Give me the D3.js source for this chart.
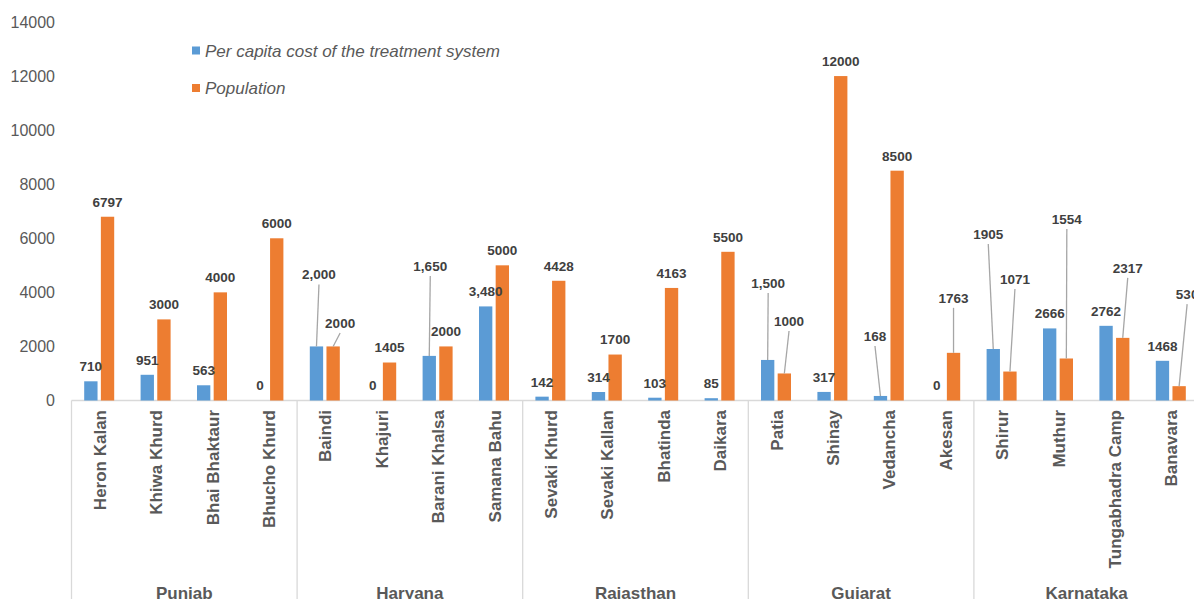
<!DOCTYPE html>
<html>
<head>
<meta charset="utf-8">
<script src="https://cdn.jsdelivr.net/npm/d3@7"></script>
<style>
  html, body { margin: 0; padding: 0; background: #ffffff; }
  svg { display: block; font-family: "Liberation Sans", Arial, sans-serif; }
</style>
</head>
<body>
<svg id="chart" width="1194" height="599"></svg>
<script>
// ---------- DATA ----------
const states = ["Punjab", "Haryana", "Rajasthan", "Gujarat", "Karnataka"];
const villages = [
  "Heron Kalan", "Khiwa Khurd", "Bhai Bhaktaur", "Bhucho Khurd",
  "Baindi", "Khajuri", "Barani Khalsa", "Samana Bahu",
  "Sevaki Khurd", "Sevaki Kallan", "Bhatinda", "Daikara",
  "Patia", "Shinay", "Vedancha", "Akesan",
  "Shirur", "Muthur", "Tungabhadra Camp", "Banavara"
];
const villageState = [
  "Punjab", "Punjab", "Punjab", "Punjab",
  "Haryana", "Haryana", "Haryana", "Haryana",
  "Rajasthan", "Rajasthan", "Rajasthan", "Rajasthan",
  "Gujarat", "Gujarat", "Gujarat", "Gujarat",
  "Karnataka", "Karnataka", "Karnataka", "Karnataka"
];
const perCapitaCost = [710, 951, 563, 0, 2000, 0, 1650, 3480, 142, 314, 103, 85, 1500, 317, 168, 0, 1905, 2666, 2762, 1468];
const population = [6797, 3000, 4000, 6000, 2000, 1405, 2000, 5000, 4428, 1700, 4163, 5500, 1000, 12000, 8500, 1763, 1071, 1554, 2317, 530];
const seriesNames = ["Per capita cost of the treatment system", "Population"];
const yTicks = [0, 2000, 4000, 6000, 8000, 10000, 12000, 14000];
// cost labels shown with thousands separators in the original
const commaFormatted = ["Baindi", "Khajuri", "Barani Khalsa", "Samana Bahu", "Patia"];

// ---------- LAYOUT (not data) ----------
const colors = ["#5B9BD5", "#ED7D31"];
// labels that were dragged away from their bars (pixel offsets from default spot)
const movedLabels = [
  { s: 0, i: 4, dx: 2.5, dy: -57 },
  { s: 0, i: 6, dx: 1, dy: -75 },
  { s: 0, i: 12, dx: 0.5, dy: -62 },
  { s: 0, i: 14, dx: -5.5, dy: -45 },
  { s: 0, i: 16, dx: -5, dy: -100 },
  { s: 1, i: 4, dx: 7, dy: -8.5 },
  { s: 1, i: 12, dx: 4.7, dy: -37.5 },
  { s: 1, i: 15, dx: 0, dy: -40 },
  { s: 1, i: 16, dx: 5, dy: -77.5 },
  { s: 1, i: 17, dx: 0.5, dy: -124.5 },
  { s: 1, i: 18, dx: 5, dy: -55 },
  { s: 1, i: 19, dx: 8, dy: -77 }
];

const svg = d3.select("#chart");
const plotLeft = 71.5, plotRight = 1199.5, yZero = 400.5, yTop = 22;

const x0 = d3.scaleBand().domain(villages).range([plotLeft, plotRight]).paddingInner(0).paddingOuter(0);
const x1 = d3.scaleBand().domain([0, 1]).range([-15.5, 14.5]).paddingInner(0.2);
const y = d3.scaleLinear().domain([0, 14000]).range([yZero, yTop]);

const center = v => x0(v) + x0.bandwidth() / 2;
const seriesValues = [perCapitaCost, population];

// Y axis tick labels
const yAxis = d3.axisLeft(y).tickValues(yTicks).tickSize(0).tickPadding(0).tickFormat(d3.format("d"));
const yG = svg.append("g").attr("transform", "translate(55,0)").call(yAxis);
yG.select(".domain").remove();
yG.selectAll("text")
  .attr("fill", "#595959")
  .style("font-size", "16px")
  .style("font-family", "'Liberation Sans', Arial, sans-serif");

// X axis line
svg.append("line")
  .attr("x1", plotLeft).attr("x2", plotRight)
  .attr("y1", yZero).attr("y2", yZero)
  .attr("stroke", "#d9d9d9").attr("stroke-width", 1.3);

// Group separators
const groupBounds = [];
states.forEach(st => {
  const idx = villageState.indexOf(st);
  groupBounds.push(x0(villages[idx]));
});
groupBounds.push(plotRight);
svg.selectAll("line.sep").data(groupBounds).enter().append("line")
  .attr("class", "sep")
  .attr("x1", d => d).attr("x2", d => d)
  .attr("y1", yZero).attr("y2", 599)
  .attr("stroke", "#d9d9d9").attr("stroke-width", 1.3);

// Bars
[0, 1].forEach(s => {
  svg.append("g").selectAll("rect").data(villages).enter().append("rect")
    .attr("x", (v) => center(v) + x1(s))
    .attr("width", x1.bandwidth())
    .attr("y", (v, i) => y(seriesValues[s][i]))
    .attr("height", (v, i) => yZero - y(seriesValues[s][i]))
    .attr("fill", colors[s]);
});

// Data labels + leader lines
const fmtComma = d3.format(",");
[0, 1].forEach(s => {
  villages.forEach((v, i) => {
    const val = seriesValues[s][i];
    const bx = center(v) + x1(s) + x1.bandwidth() / 2;
    const by = y(val);
    let lx = bx, ly = by - 15;
    const mv = movedLabels.find(m => m.s === s && m.i === i);
    if (mv) {
      lx += mv.dx; ly += mv.dy;
      svg.append("line")
        .attr("x1", lx).attr("y1", ly + 10)
        .attr("x2", bx).attr("y2", by)
        .attr("stroke", "#a6a6a6").attr("stroke-width", 1.3);
    }
    const txt = (s === 0 && commaFormatted.includes(v)) ? fmtComma(val) : String(val);
    svg.append("text")
      .attr("x", lx).attr("y", ly).attr("dy", "0.36em")
      .attr("text-anchor", "middle")
      .attr("fill", "#404040")
      .style("font-size", "13.5px").style("font-weight", "bold")
      .text(txt);
  });
});

// Category labels (rotated)
svg.append("g").selectAll("text").data(villages).enter().append("text")
  .attr("transform", v => `translate(${center(v)},410) rotate(-90)`)
  .attr("dy", "0.36em")
  .attr("text-anchor", "end")
  .attr("fill", "#595959")
  .style("font-size", "17px").style("font-weight", "bold")
  .text(v => v);

// State labels
svg.append("g").selectAll("text").data(states).enter().append("text")
  .attr("x", (st, k) => (groupBounds[k] + groupBounds[k + 1]) / 2)
  .attr("y", 599)
  .attr("text-anchor", "middle")
  .attr("fill", "#595959")
  .style("font-size", "17px").style("font-weight", "bold")
  .text(st => st);

// Legend
const legend = svg.append("g");
seriesNames.forEach((name, s) => {
  const cy = s === 0 ? 50.5 : 88;
  legend.append("rect").attr("x", 192).attr("y", cy - 4).attr("width", 8).attr("height", 8).attr("fill", colors[s]);
  legend.append("text").attr("x", 205).attr("y", cy).attr("dy", "0.36em")
    .attr("fill", "#595959").style("font-size", "17px").style("font-style", "italic")
    .text(name);
});
</script>
</body>
</html>
